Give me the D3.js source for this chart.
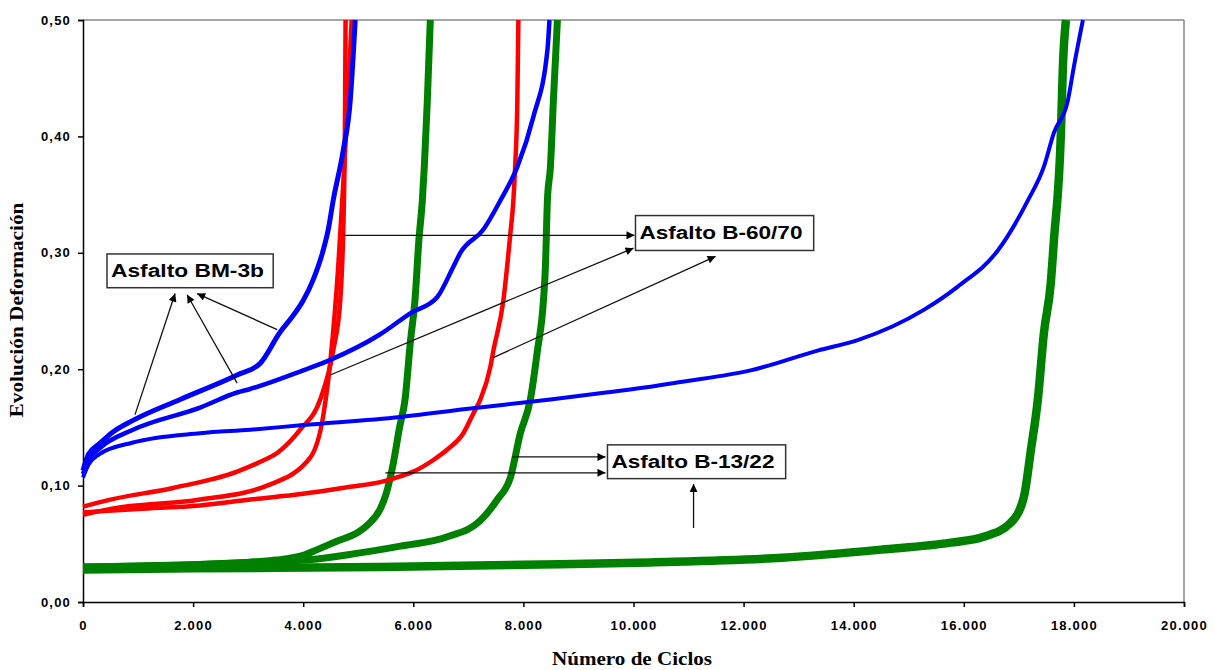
<!DOCTYPE html>
<html lang="es">
<head>
<meta charset="UTF-8">
<title>Evolución Deformación</title>
<script src="https://d3js.org/d3.v7.min.js"></script>
<style>
  body { margin: 0; background: #fff; }
  .tick text { font-family: "Liberation Sans", Arial, sans-serif; font-weight: bold; font-size: 13px; letter-spacing: 1.2px; }
</style>
</head>
<body>
<svg id="chart" width="1215" height="670"></svg>
<script>
// [ciclos, deformación]
var bm3bA = [[0,0.113],[100,0.127],[300,0.136],[545,0.146],[909,0.156],[1764,0.174],[2800,0.195],[3218,0.205],[3582,0.232],[3800,0.245],[4000,0.259],[4182,0.277],[4350,0.300],[4455,0.320],[4545,0.345],[4727,0.388],[4855,0.431],[4909,0.470],[4945,0.500]];
var bm3bB = [[0,0.110],[100,0.122],[300,0.132],[909,0.148],[2127,0.167],[2800,0.180],[3036,0.183],[4000,0.199],[4491,0.208],[5400,0.230],[5945,0.248],[6436,0.262],[6727,0.288],[6855,0.300],[7273,0.320],[7582,0.345],[7891,0.374],[8182,0.417],[8436,0.474],[8473,0.500]];
var bm3bC = [[0,0.107],[100,0.118],[300,0.127],[909,0.137],[2127,0.145],[3036,0.148],[4000,0.152],[5764,0.159],[7000,0.166],[8491,0.174],[9500,0.180],[10309,0.185],[10855,0.189],[12127,0.199],[13345,0.216],[14073,0.225],[15273,0.251],[15891,0.271],[16618,0.302],[17164,0.345],[17455,0.374],[17636,0.403],[17891,0.431],[18000,0.460],[18164,0.500]];

var b6070A = [[0,0.082],[500,0.088],[1636,0.098],[2800,0.112],[3200,0.120],[3527,0.128],[3945,0.148],[4309,0.174],[4545,0.216],[4673,0.259],[4740,0.345],[4760,0.420],[4770,0.500]];
var b6070B = [[0,0.075],[500,0.080],[2127,0.088],[3345,0.100],[4127,0.124],[4364,0.160],[4500,0.210],[4636,0.288],[4709,0.345],[4800,0.420],[4880,0.500]];
var b6070C = [[0,0.077],[1000,0.080],[2127,0.083],[3036,0.088],[4000,0.093],[4855,0.099],[5400,0.103],[5764,0.108],[6000,0.112],[6364,0.122],[6618,0.131],[6909,0.145],[7091,0.162],[7218,0.174],[7400,0.202],[7455,0.216],[7636,0.259],[7764,0.317],[7818,0.345],[7850,0.374],[7890,0.431],[7909,0.500]];

var b1322A = [[0,0.030],[1000,0.031],[2000,0.032],[3000,0.034],[3500,0.036],[4000,0.040],[4255,0.045],[4600,0.052],[5000,0.060],[5164,0.066],[5400,0.080],[5500,0.092],[5640,0.120],[5750,0.150],[5850,0.174],[5950,0.225],[6030,0.259],[6100,0.310],[6164,0.345],[6200,0.374],[6255,0.431],[6309,0.500]];
var b1322B = [[0,0.030],[2000,0.032],[3500,0.035],[4255,0.037],[5000,0.042],[5764,0.048],[6618,0.056],[7218,0.070],[7527,0.088],[7764,0.107],[7945,0.145],[8127,0.174],[8255,0.216],[8364,0.259],[8400,0.288],[8436,0.345],[8491,0.374],[8545,0.431],[8618,0.500]];
var b1322C = [[0,0.028],[2000,0.029],[5400,0.030],[8000,0.032],[10300,0.034],[12700,0.038],[14500,0.045],[15760,0.051],[16360,0.056],[16850,0.068],[17090,0.090],[17220,0.131],[17345,0.174],[17455,0.231],[17580,0.274],[17636,0.310],[17764,0.403],[17800,0.460],[17855,0.500]];

var xTicks = [0,2000,4000,6000,8000,10000,12000,14000,16000,18000,20000];
var yTicks = [0,0.1,0.2,0.3,0.4,0.5];

var labels = ["Asfalto BM-3b", "Asfalto B-60/70", "Asfalto B-13/22"];
// cajas [x0, y0, x1, y1] en unidades de datos
var boxes = [[436,0.299,3455,0.270],[10036,0.332,13273,0.302],[9527,0.135,12764,0.106]];
// flechas [x desde, y desde, x hasta, y hasta]
var arrows = [
  [945,0.161,1673,0.265],[2800,0.188,1891,0.264],[3527,0.234,2073,0.265],
  [4727,0.315,10018,0.315],[4491,0.195,10000,0.304],[7455,0.210,11491,0.297],
  [7800,0.1246,9491,0.1246],[5491,0.111,9491,0.111],[11091,0.0636,11091,0.1014]
];

var svg = d3.select('#chart');
var L = 83, T = 20, R = 1184, B = 602;
var x = d3.scaleLinear().domain([0, 20000]).range([L, R]);
var y = d3.scaleLinear().domain([0, 0.5]).range([B, T]);

// marco superior y derecho gris
svg.append('line').attr('x1', L).attr('x2', R).attr('y1', T).attr('y2', T).attr('stroke', '#888').attr('stroke-width', 1.5);
svg.append('line').attr('x1', R).attr('x2', R).attr('y1', T).attr('y2', B).attr('stroke', '#888').attr('stroke-width', 1.5);

var fmtX = function(d) { return d === 0 ? '0' : d3.format(',')(d).replace(/,/g, '.'); };
var fmtY = function(d) { return d.toFixed(2).replace('.', ','); };

var gx = svg.append('g').attr('transform', 'translate(0,' + B + ')')
  .call(d3.axisBottom(x).tickValues(xTicks).tickFormat(fmtX).tickSize(5).tickPadding(14));
var gy = svg.append('g').attr('transform', 'translate(' + L + ',0)')
  .call(d3.axisLeft(y).tickValues(yTicks).tickFormat(fmtY).tickSize(5).tickPadding(7));
[gx, gy].forEach(function(g) {
  g.select('.domain').attr('stroke', '#000').attr('stroke-width', 1.5);
  g.selectAll('.tick line').attr('stroke', '#000').attr('stroke-width', 1.5);
  g.selectAll('.tick text').attr('fill', '#000');
});

var line = d3.line().x(d => x(d[0])).y(d => y(d[1])).curve(d3.curveMonotoneX);

var series = [
  {d: b1322C, c: '#008000', w: 8.5},
  {d: b1322A, c: '#008000', w: 7},
  {d: b1322B, c: '#008000', w: 7},
  {d: b6070C, c: '#ff0000', w: 4.5},
  {d: b6070A, c: '#ff0000', w: 4.5},
  {d: b6070B, c: '#ff0000', w: 4.5},
  {d: bm3bC, c: '#0000ff', w: 4},
  {d: bm3bB, c: '#0000ff', w: 4.5},
  {d: bm3bA, c: '#0000ff', w: 5}
];
svg.append('g').selectAll('path').data(series).enter().append('path')
  .attr('d', s => line(s.d)).attr('fill', 'none')
  .attr('stroke', s => s.c).attr('stroke-width', s => s.w)
  .attr('stroke-linejoin', 'round');

// flechas
svg.append('defs').append('marker')
  .attr('id', 'arrow').attr('viewBox', '0 0 10 10').attr('refX', 10).attr('refY', 5)
  .attr('markerWidth', 10).attr('markerHeight', 8).attr('markerUnits', 'userSpaceOnUse')
  .attr('orient', 'auto')
  .append('path').attr('d', 'M0,0 L10,5 L0,10 Z').attr('fill', '#000');

svg.append('g').selectAll('line').data(arrows).enter().append('line')
  .attr('x1', d => x(d[0])).attr('y1', d => y(d[1]))
  .attr('x2', d => x(d[2])).attr('y2', d => y(d[3]))
  .attr('stroke', '#111').attr('stroke-width', 1.3)
  .attr('marker-end', 'url(#arrow)');

var gb = svg.append('g').selectAll('g').data(boxes).enter().append('g');
gb.append('rect')
  .attr('x', d => x(d[0])).attr('y', d => y(d[1]))
  .attr('width', d => x(d[2]) - x(d[0])).attr('height', d => y(d[3]) - y(d[1]))
  .attr('fill', '#fff').attr('stroke', '#333').attr('stroke-width', 1.5);
gb.append('text')
  .attr('x', d => x(d[0]) + 4).attr('y', d => (y(d[1]) + y(d[3])) / 2 + 6)
  .attr('textLength', (d, i) => i === 0 ? 153 : 163).attr('lengthAdjust', 'spacingAndGlyphs')
  .style('font-family', '"Liberation Sans", Arial, sans-serif').style('font-weight', 'bold').style('font-size', '18px')
  .text((d, i) => labels[i]);

// títulos de ejes
svg.append('text').attr('x', 632).attr('y', 665).attr('text-anchor', 'middle')
  .attr('textLength', 160).attr('lengthAdjust', 'spacingAndGlyphs')
  .style('font-family', '"Liberation Serif", "Times New Roman", serif').style('font-weight', 'bold').style('font-size', '18px')
  .text('Número de Ciclos');
svg.append('text').attr('transform', 'translate(23,310) rotate(-90)').attr('text-anchor', 'middle')
  .attr('textLength', 215).attr('lengthAdjust', 'spacingAndGlyphs')
  .style('font-family', '"Liberation Serif", "Times New Roman", serif').style('font-weight', 'bold').style('font-size', '18px')
  .text('Evolución Deformación');
</script>
</body>
</html>
